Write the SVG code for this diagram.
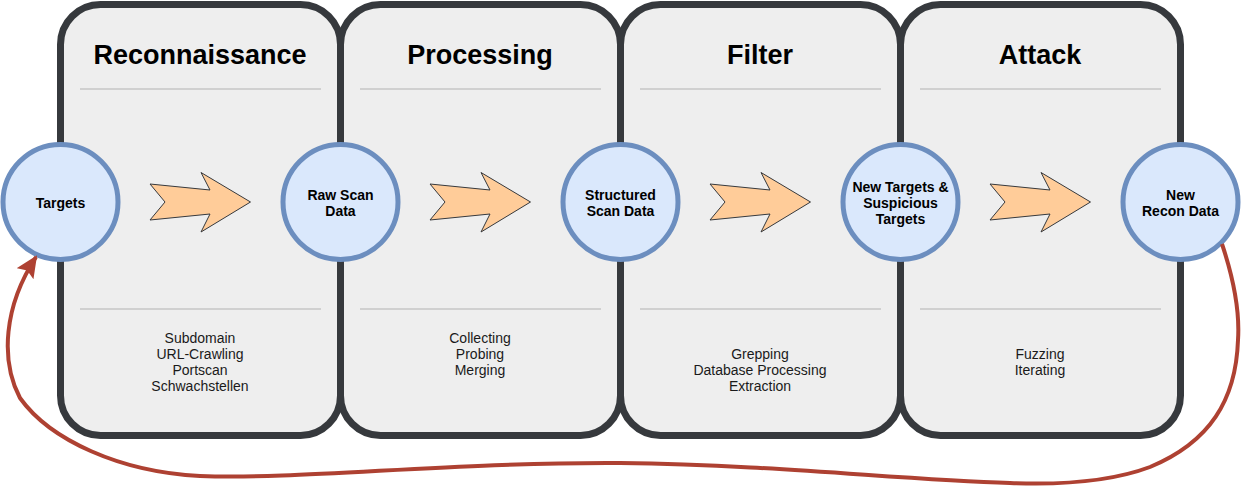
<svg xmlns="http://www.w3.org/2000/svg" width="1241" height="486" viewBox="0 0 1241 486">
<defs>
<style>
.panel{fill:#eeeeee;stroke:#36393d;stroke-width:7}
.sep{stroke:#d0d0d0;stroke-width:2}
.title{font-family:"Liberation Sans",Arial,sans-serif;font-weight:bold;font-size:27px;fill:#000;text-anchor:middle}
.node{fill:#dae8fc;stroke:#6c8ebf;stroke-width:5}
.ntext{font-family:"Liberation Sans",Arial,sans-serif;font-weight:bold;font-size:14px;fill:#000;text-anchor:middle}
.desc{font-family:"Liberation Sans",Arial,sans-serif;font-size:14px;fill:#1a1a1a;text-anchor:middle}
.flow{fill:#ffcc99;stroke:#36393d;stroke-width:1}
.loop{fill:none;stroke:#ae4132;stroke-width:4}
</style>
<polygon id="bigarrow" class="flow" points="150,184 210,190 201,172.5 250.5,202 201,232 210,214 150,220 165,202"/>
<marker id="head" markerUnits="userSpaceOnUse" viewBox="0 0 22 20" markerWidth="22" markerHeight="20" refX="20" refY="10" orient="auto">
<path d="M0,0 L22,10 L0,20 L4,10 Z" fill="#ae4132"/>
</marker>
</defs>
<rect width="1241" height="486" fill="#ffffff"/>

<g id="panel-recon">
<rect class="panel" x="60.5" y="4.5" width="280" height="431" rx="40"/>
<text class="title" x="200" y="64">Reconnaissance</text>
<line class="sep" x1="80" y1="89" x2="321" y2="89"/>
<line class="sep" x1="80" y1="309" x2="321" y2="309"/>
<text class="desc" x="200" y="343">Subdomain</text>
<text class="desc" x="200" y="359">URL-Crawling</text>
<text class="desc" x="200" y="375">Portscan</text>
<text class="desc" x="200" y="391">Schwachstellen</text>
<use href="#bigarrow"/>
</g>

<g id="panel-processing">
<rect class="panel" x="340.5" y="4.5" width="280" height="431" rx="40"/>
<text class="title" x="480" y="64">Processing</text>
<line class="sep" x1="360" y1="89" x2="601" y2="89"/>
<line class="sep" x1="360" y1="309" x2="601" y2="309"/>
<text class="desc" x="480" y="343">Collecting</text>
<text class="desc" x="480" y="359">Probing</text>
<text class="desc" x="480" y="375">Merging</text>
<use href="#bigarrow" x="280"/>
</g>

<g id="panel-filter">
<rect class="panel" x="620.5" y="4.5" width="280" height="431" rx="40"/>
<text class="title" x="760" y="64">Filter</text>
<line class="sep" x1="640" y1="89" x2="881" y2="89"/>
<line class="sep" x1="640" y1="309" x2="881" y2="309"/>
<text class="desc" x="760" y="359">Grepping</text>
<text class="desc" x="760" y="375">Database Processing</text>
<text class="desc" x="760" y="391">Extraction</text>
<use href="#bigarrow" x="560"/>
</g>

<g id="panel-attack">
<rect class="panel" x="900.5" y="4.5" width="280" height="431" rx="40"/>
<text class="title" x="1040" y="64">Attack</text>
<line class="sep" x1="920" y1="89" x2="1161" y2="89"/>
<line class="sep" x1="920" y1="309" x2="1161" y2="309"/>
<text class="desc" x="1040" y="359">Fuzzing</text>
<text class="desc" x="1040" y="375">Iterating</text>
<use href="#bigarrow" x="840"/>
</g>

<g id="node-targets">
<circle class="node" cx="60.5" cy="202" r="57.5"/>
<text class="ntext" x="60.5" y="207.5">Targets</text>
</g>
<g id="node-raw">
<circle class="node" cx="340.5" cy="202" r="57.5"/>
<text class="ntext" x="340.5" y="199.5">Raw Scan</text>
<text class="ntext" x="340.5" y="215.5">Data</text>
</g>
<g id="node-structured">
<circle class="node" cx="620.5" cy="202" r="57.5"/>
<text class="ntext" x="620.5" y="199.5">Structured</text>
<text class="ntext" x="620.5" y="215.5">Scan Data</text>
</g>
<g id="node-newtargets">
<circle class="node" cx="900.5" cy="202" r="57.5"/>
<text class="ntext" x="900.5" y="191.5">New Targets &amp;</text>
<text class="ntext" x="900.5" y="207.5">Suspicious</text>
<text class="ntext" x="900.5" y="223.5">Targets</text>
</g>
<g id="node-newrecon">
<circle class="node" cx="1180.5" cy="202" r="57.5"/>
<text class="ntext" x="1180.5" y="199.5">New</text>
<text class="ntext" x="1180.5" y="215.5">Recon Data</text>
</g>

<g id="connectors">
<path class="loop" marker-end="url(#head)" d="M1222 244 C1234 280,1240 310,1238 340 C1236 400,1210 442,1150 467 C1110 482,1060 485,1010 483 C900 480,780 465,620 463 C450 462,300 480,200 476 C120 472,50 440,20 398 C0 360,4 306,36 257"/>
</g>
</svg>
